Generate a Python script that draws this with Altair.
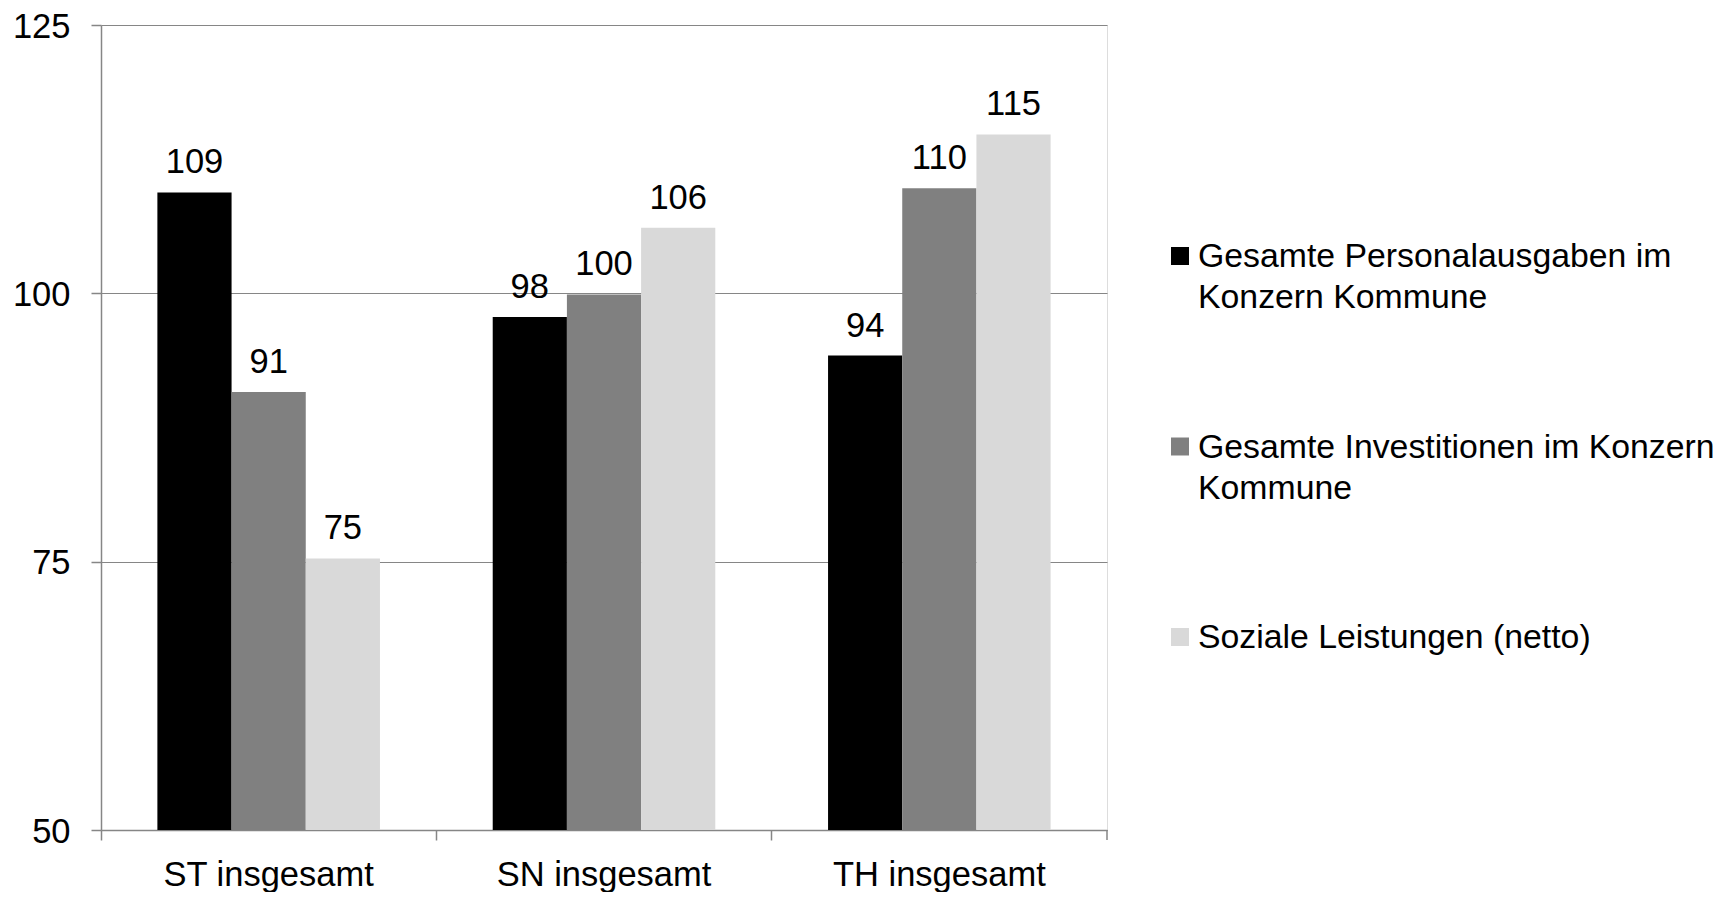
import altair as alt
import pandas as pd

# ---- data ----
categories = ["ST insgesamt", "SN insgesamt", "TH insgesamt"]
series = [
    "Gesamte Personalausgaben im Konzern Kommune",
    "Gesamte Investitionen im Konzern Kommune",
    "Soziale Leistungen (netto)",
]
legend_lines = [
    "Gesamte Personalausgaben im\nKonzern Kommune",
    "Gesamte Investitionen im Konzern\nKommune",
    "Soziale Leistungen (netto)",
]
colors = ["#000000", "#808080", "#d9d9d9"]
personal = [109.4, 97.8, 94.2]
invest = [90.8, 99.9, 109.8]
sozial = [75.3, 106.1, 114.8]
y_ticks = [50, 75, 100, 125]

rows = []
for i, c in enumerate(categories):
    for s, vals in zip(series, [personal, invest, sozial]):
        rows.append({"cat": c, "series": s, "value": vals[i]})
df = pd.DataFrame(rows)

FONT = "Liberation Sans"
AXC = "#868686"
W, H = 1006, 805
FS = 34.5
FS_LEG = 33.8

color_enc = alt.Color("series:N", sort=series,
                      scale=alt.Scale(domain=series, range=colors), legend=None)

base = alt.Chart(df).encode(
    x=alt.X(
        "cat:N",
        sort=categories,
        scale=alt.Scale(paddingInner=0, paddingOuter=0),
        axis=alt.Axis(
            title=None, labelAngle=0, bandPosition=0, labelLimit=500,
            tickSize=10, tickWidth=1.5, tickColor=AXC,
            domainColor=AXC, domainWidth=1.5,
            labelFont=FONT, labelFontSize=FS, labelColor="black",
            labelPadding=18, grid=False,
        ),
    ),
    xOffset=alt.XOffset(
        "series:N", sort=series,
        scale=alt.Scale(paddingInner=0, paddingOuter=0.76),
    ),
    y=alt.Y(
        "value:Q",
        scale=alt.Scale(domain=[50, 125], nice=False, zero=False),
        axis=alt.Axis(
            values=y_ticks, title=None, grid=True, gridColor=AXC, gridWidth=1.2,
            domainColor=AXC, domainWidth=1.5, tickColor=AXC, tickSize=10,
            tickWidth=1.5, labelFont=FONT, labelFontSize=FS, labelColor="black",
            labelPadding=21, labelBaseline="alphabetic", labelOffset=12.3,
        ),
    ),
)

bars = base.mark_bar(clip=True).encode(color=color_enc)
labels = base.mark_text(
    baseline="alphabetic", dy=-19, fontSize=FS, font=FONT, color="black"
).encode(text=alt.Text("value:Q", format=".0f"))

end_tick = alt.Chart(pd.DataFrame({"k": [0]})).mark_rule(
    color=AXC, strokeWidth=1.5
).encode(x=alt.value(W), y=alt.value(H), y2=alt.value(H + 10))

plot = alt.layer(bars, labels, end_tick)

# legend drawn to the right of the plot area
leg_df = pd.DataFrame({"series": series, "label": legend_lines, "idx": [0, 1, 2]})
leg_base = alt.Chart(leg_df).encode(
    y=alt.Y("idx:Q", scale=alt.Scale(domain=[0, 2], range=[231, 612]), axis=None)
)
sq = leg_base.mark_square(size=324, opacity=1).encode(
    x=alt.value(W + 73), color=color_enc
)
txt = leg_base.mark_text(
    align="left", baseline="alphabetic", dy=11, fontSize=FS_LEG, font=FONT,
    lineBreak="\n", lineHeight=41, color="black",
).encode(x=alt.value(W + 91), text="label:N")
legend = alt.layer(sq, txt)

chart = (
    alt.layer(plot, legend)
    .resolve_scale(y="independent")
    .properties(
        width=W, height=H,
        autosize=alt.AutoSizeParams(type="none"),
        padding={"left": 93, "top": 17, "right": 616, "bottom": 62},
    )
    .configure_view(stroke=None)
    .configure(font=FONT)
)

chart.save("out.html", embed_options={"renderer": "svg", "actions": False})
